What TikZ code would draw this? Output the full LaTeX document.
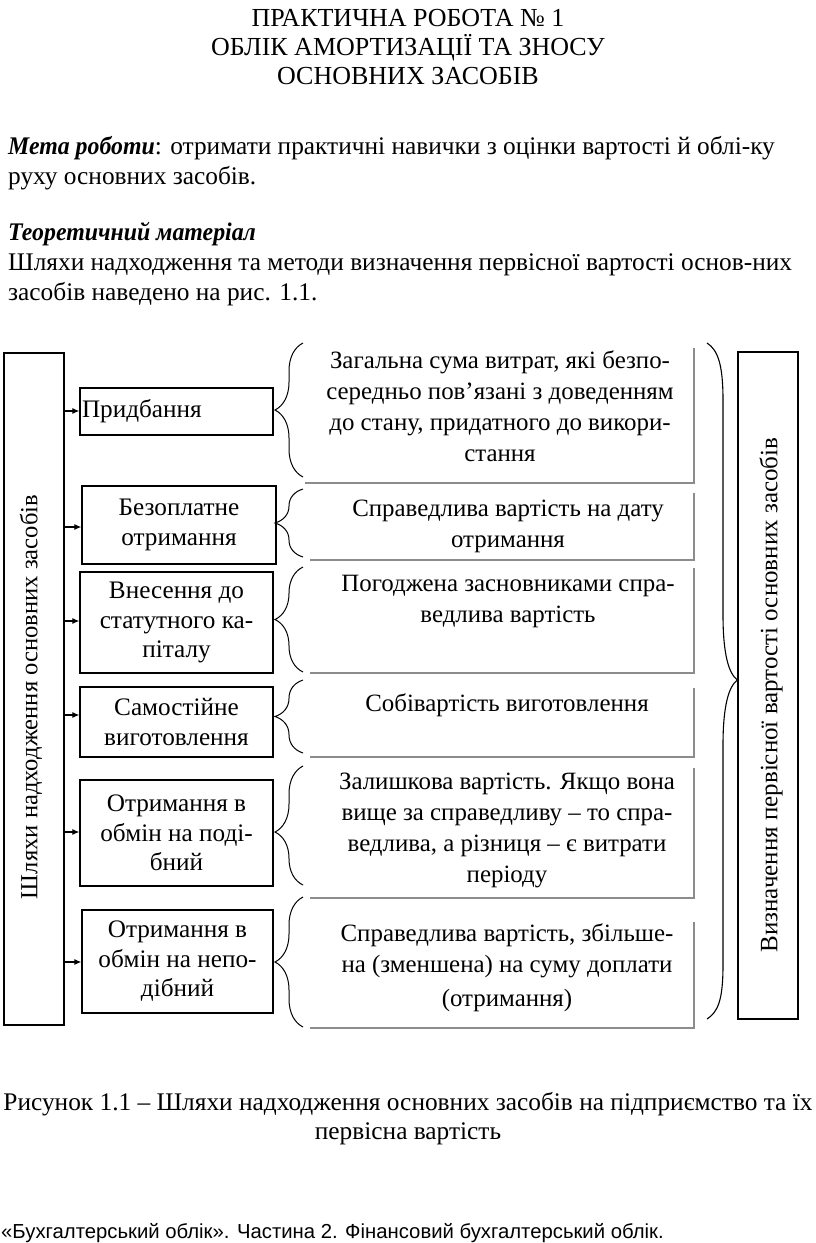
\documentclass[tikz,border=0pt]{standalone}
\usepackage{fontspec}
\setmainfont{Liberation Serif}
\newfontfamily\footfont{Liberation Sans}
\usetikzlibrary{arrows.meta,decorations.pathreplacing}
\definecolor{framegray}{rgb}{0.55,0.55,0.55}
\newcommand{\bihead}[1]{\scalebox{0.94}[1]{\textbf{\textit{#1}}}}
\begin{document}
\begin{tikzpicture}[x=1pt,y=-1pt,
  ttl/.style={inner sep=0pt,font=\fontsize{26}{30}\selectfont},
  txt/.style={inner sep=0pt,font=\fontsize{25.35}{30}\selectfont},
  dtxt/.style={inner sep=0pt,align=center,font=\fontsize{24.9}{31}\selectfont},
  srcbox/.style={draw,line width=1.3pt,inner sep=0pt,align=center,font=\fontsize{25.2}{29.5}\selectfont},
  bigbox/.style={draw,line width=1.1pt,inner sep=0pt},
  valbox/.style={inner sep=0pt},
  gframe/.style={draw=framegray,line width=2pt},
  arr/.style={-{Latex[length=7pt,width=6pt]},line width=1.1pt},
  lbrace/.style={decorate,decoration={brace,amplitude=28pt},line width=1pt},
  bigbrace/.style={line width=1.1pt}
]
\useasboundingbox (0,0) rectangle (816,1243);
% title
\node[ttl,anchor=base] (h1) at (408,26) {ПРАКТИЧНА РОБОТА № 1};
\node[ttl,anchor=base] (h2) at (408,55) {ОБЛІК АМОРТИЗАЦІЇ ТА ЗНОСУ};
\node[ttl,anchor=base] (h3) at (408,84) {ОСНОВНИХ ЗАСОБІВ};
% body
\node[txt,anchor=base west] (p1) at (8,154) {\bihead{Мета роботи}: отримати практичні навички з оцінки вартості й облі-ку};
\node[txt,anchor=base west] (p2) at (8,184) {руху основних засобів.};
\node[txt,anchor=base west] (p3) at (8,240) {\bihead{Теоретичний матеріал}};
\node[txt,anchor=base west] (p4) at (8,270) {Шляхи надходження та методи визначення первісної вартості основ-них};
\node[txt,anchor=base west] (p5) at (8,300) {засобів наведено на рис. 1.1.};
% left big box
\node[bigbox,minimum width=60pt,minimum height=672pt] (L) at (34,689) {};
\node[inner sep=0pt,rotate=90,font=\fontsize{24.6}{28}\selectfont] (Lt) at (31,697) {Шляхи надходження основних засобів};
% right big box
\node[bigbox,minimum width=60pt,minimum height=667pt] (R) at (768,685.5) {};
\node[inner sep=0pt,rotate=90,font=\fontsize{25}{28}\selectfont] (Rt) at (771,695) {Визначення первісної вартості основних засобів};
% source boxes
\node[srcbox,minimum width=193pt,minimum height=47pt,align=left,text width=189pt] (b1) at (176.5,411.5) {Придбання};
\node[srcbox,minimum width=194pt,minimum height=78pt] (b2) at (179,525) {Безоплатне\\отримання};
\node[srcbox,minimum width=193pt,minimum height=101pt] (b3) at (176.5,622.5) {Внесення до\\статутного ка-\\піталу};
\node[srcbox,minimum width=193pt,minimum height=70pt] (b4) at (176.5,722) {Самостійне\\виготовлення};
\node[srcbox,minimum width=193pt,minimum height=106pt] (b5) at (176.5,833) {Отримання в\\обмін на поді-\\бний};
\node[srcbox,minimum width=191pt,minimum height=103pt] (b6) at (177.5,961.5) {Отримання в\\обмін на непо-\\дібний};
% arrows
\foreach \b/\yy in {b1/411,b2/527,b3/621,b4/715,b5/832,b6/962}{
  \coordinate (s\b) at (64,\yy);
  \draw[arr] (s\b) -- (s\b -| \b.west);
}
% value frames
\node[valbox,minimum width=389pt,minimum height=135pt] (v1) at (499.5,415.5) {};
\node[valbox,minimum width=384pt,minimum height=67pt] (v2) at (502,526.5) {};
\node[valbox,minimum width=384pt,minimum height=105pt] (v3) at (502,620.5) {};
\node[valbox,minimum width=384pt,minimum height=69pt] (v4) at (502,722.5) {};
\node[valbox,minimum width=384pt,minimum height=130pt] (v5) at (502,833) {};
\node[valbox,minimum width=384pt,minimum height=106pt] (v6) at (502,975) {};
\foreach \v in {v1,v2,v3,v4,v5,v6}{
  \draw[gframe] (\v.north east) -- (\v.south east) -- (\v.south west);
}
% value texts
\node[dtxt,anchor=north] (t1) at (500,350) {Загальна сума витрат, які безпо-\\середньо пов’язані з доведенням\\до стану, придатного до викори-\\стання};
\node[dtxt,anchor=north] (t2) at (508,500) {Справедлива вартість на дату\\отримання};
\node[dtxt,anchor=north] (t3) at (508,575) {Погоджена засновниками спра-\\ведлива вартість};
\node[dtxt,anchor=north] (t4) at (507,693) {Собівартість виготовлення};
\node[dtxt,anchor=north] (t5) at (507,773) {Залишкова вартість. Якщо вона\\вище за справедливу – то спра-\\ведлива, а різниця – є витрати\\періоду};
\node[dtxt,anchor=north] (t6) at (507,923) {Справедлива вартість, збільше-\\на (зменшена) на суму доплати\\[3pt](отримання)};
% braces
\draw[lbrace] (303,477) -- (303,343);
\draw[lbrace] (303,557) -- (303,489);
\draw[lbrace] (303,672) -- (303,567);
\draw[lbrace] (303,753) -- (303,680);
\draw[lbrace,decoration={aspect=0.445}] (303,885) -- (303,766);
\draw[lbrace] (303,1027) -- (303,897);
\draw[bigbrace] (707,343) .. controls (718,350) and (723,365) .. (723,400) -- (723,615)
  .. controls (723,655) and (729,674) .. (R.west |- 0,680)
  .. controls (729,686) and (723,705) .. (723,745) -- (723,965)
  .. controls (723,1000) and (718,1012) .. (707,1019);
% caption
\node[txt,anchor=base] (c1) at (408,1110) {Рисунок 1.1 – Шляхи надходження основних засобів на підприємство та їх};
\node[txt,anchor=base] (c2) at (408,1139) {первісна вартість};
% footer
\node[inner sep=0pt,anchor=base west,font=\footfont\fontsize{20.3}{24}\selectfont] (f) at (1,1238) {«Бухгалтерський облік». Частина 2. Фінансовий бухгалтерський облік.};
\end{tikzpicture}
\end{document}
